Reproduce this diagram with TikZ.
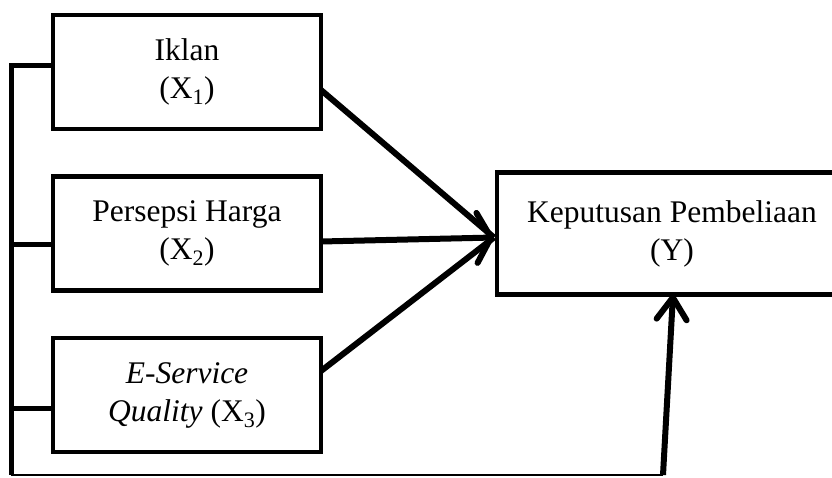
\documentclass[tikz,border=0pt]{standalone}
\usepackage{fontspec}
\setmainfont{Liberation Serif}
\usepackage{tikz}
\usetikzlibrary{arrows.meta,positioning,calc}
\tikzset{
  basic-style/.style = {
    rectangle, draw, line width=4.5pt,
    outer sep=0pt, align=center,
    font=\fontsize{31.5}{38}\selectfont
  },
  var-style/.style = {
    basic-style,
    minimum width=268pt,
    minimum height=114pt
  },
  dep-style/.style = {
    basic-style,
    minimum width=350pt,
    minimum height=122pt
  },
  link-style/.style = {
    line width=5pt
  },
  foot-style/.style = {
    line width=2pt
  },
  every edge/.style = {draw, line width=6pt}
}
\newlength\varDistance
\setlength\varDistance{47.5pt}
\def\createVar name:#1 display:#2 below:#3;{
  \node [var-style, below=\varDistance of #3] (#1) {#2};
}

\begin{document}
\begin{tikzpicture}[x=1pt, y=-1pt]
    \path[use as bounding box, clip] (0,0) rectangle (832,477);

    \node [var-style] (iklan) at (187,72) {Iklan\\(X\textsubscript{1})};
    \createVar name:harga display:{Persepsi Harga\\(X\textsubscript{2})} below:iklan;
    \createVar name:eservice display:{\textit{E-Service}\\\textit{Quality} (X\textsubscript{3})} below:harga;
    \node [dep-style, right=176pt of harga] (keputusan) {Keputusan Pembeliaan\\(Y)};

    % meeting point of the three paths
    \coordinate (tip) at ([xshift=-3pt,yshift=-4pt]keputusan.west);
    \path ([yshift=-18pt]iklan.east) edge (tip);
    \path ([yshift=-8pt]harga.east) edge[-{Straight Barb[length=14pt,width=50pt,round]}] (tip);
    \path ([yshift=24pt]eservice.east) edge (tip);

    % bracket on the left
    \coordinate (corner) at (11,475);
    \coordinate (foot) at (663,475);
    \coordinate (t1) at ([yshift=7pt]iklan.west);
    \coordinate (t2) at ([yshift=-11pt]harga.west);
    \coordinate (t3) at ([yshift=-13pt]eservice.west);
    \draw[link-style] (t1) -| (corner);
    \draw[link-style] (t2) -- (t2 -| corner);
    \draw[link-style] (t3) -- (t3 -| corner);
    \draw[foot-style] (corner) -- (foot);
    \path (foot) edge[-{Straight Barb[length=22pt,width=30pt,round]}] ([xshift=1pt]keputusan.south);
\end{tikzpicture}
\end{document}
